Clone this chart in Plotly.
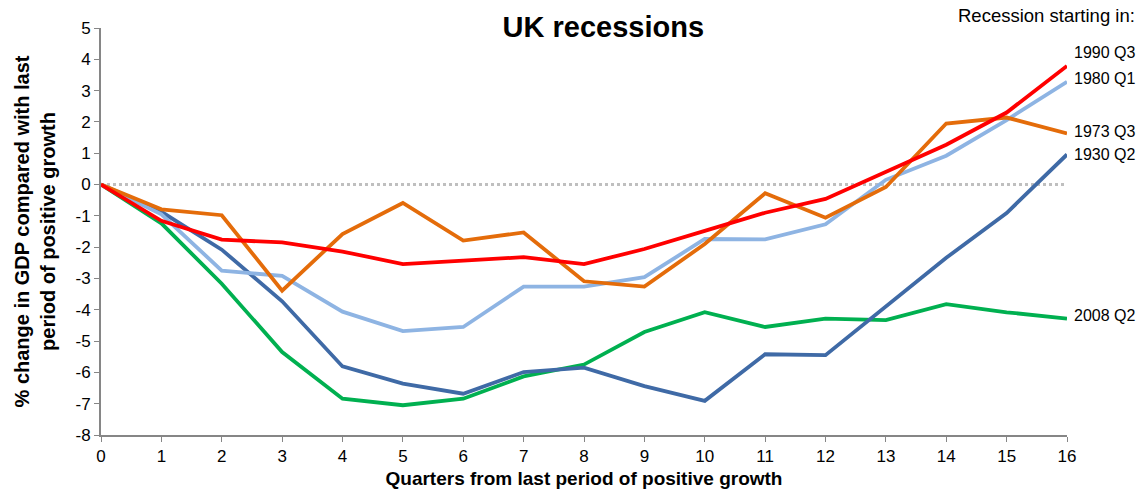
import plotly.graph_objects as go

quarters = list(range(17))
s1990 = [0, -1.16, -1.76, -1.85, -2.14, -2.54, -2.43, -2.32, -2.54, -2.06, -1.48, -0.90, -0.46, 0.39, 1.27, 2.30, 3.79]
s1980 = [0, -0.95, -2.75, -2.92, -4.06, -4.68, -4.55, -3.26, -3.26, -2.96, -1.74, -1.75, -1.27, 0.15, 0.92, 2.06, 3.28]
s1973 = [0, -0.79, -0.98, -3.39, -1.58, -0.59, -1.79, -1.53, -3.09, -3.26, -1.90, -0.28, -1.06, -0.08, 1.95, 2.14, 1.63]
s1930 = [0, -0.87, -2.08, -3.73, -5.81, -6.36, -6.68, -5.99, -5.85, -6.44, -6.91, -5.42, -5.45, -3.91, -2.34, -0.91, 0.96]
s2008 = [0, -1.24, -3.17, -5.35, -6.84, -7.05, -6.84, -6.13, -5.75, -4.71, -4.08, -4.55, -4.28, -4.33, -3.82, -4.08, -4.28]

names = ["1990 Q3", "1980 Q1", "1973 Q3", "1930 Q2", "2008 Q2"]
colors = ["#FF0000", "#8EB4E3", "#E46C0A", "#3F6AA6", "#00B050"]
series = [s1990, s1980, s1973, s1930, s2008]
label_offsets = [0.42, 0.10, 0.08, 0.0, 0.11]
y_ticks = list(range(-8, 6))

FONT = "Liberation Sans, Arial, sans-serif"

fig = go.Figure()
# zero reference line
fig.add_trace(go.Scatter(x=[quarters[0], quarters[-1]], y=[0, 0], mode="lines",
                         line=dict(color="#BFBFBF", width=3, dash="dot"),
                         hoverinfo="skip", showlegend=False))
order = [4, 3, 1, 2, 0]
for i in order:
    fig.add_trace(go.Scatter(x=quarters, y=series[i], mode="lines", name=names[i],
                             line=dict(color=colors[i], width=3.8), showlegend=False))

for i in range(len(names)):
    fig.add_annotation(x=quarters[-1], y=series[i][-1] + label_offsets[i], xref="x", yref="y",
                       text=names[i], showarrow=False, xanchor="left", xshift=5,
                       font=dict(family=FONT, size=16, color="#000000"))

fig.add_annotation(x=1, y=1, xref="paper", yref="paper", xanchor="right", yanchor="bottom",
                   xshift=70, yshift=0, text="Recession starting in:", showarrow=False,
                   font=dict(family=FONT, size=18.5, color="#000000"))

fig.update_layout(
    width=1141, height=491,
    margin=dict(l=101, r=74, t=28, b=56),
    paper_bgcolor="white", plot_bgcolor="white",
    font=dict(family=FONT, color="#000000"),
    title=dict(text="<b>UK recessions</b>", x=0.52, xanchor="center", xref="paper",
               y=0.945, yanchor="middle", font=dict(family=FONT, size=29, color="#000000")),
    xaxis=dict(range=[0, 16], tickvals=quarters, ticktext=[str(q) for q in quarters],
               automargin=False,
               showgrid=False, zeroline=False, showline=True, linecolor="#868686", linewidth=2,
               ticks="outside", ticklen=5, tickcolor="#868686", tickwidth=1,
               tickfont=dict(family=FONT, size=17, color="#000000"),
               title=dict(text="<b>Quarters from last period of positive growth</b>",
                          font=dict(family=FONT, size=19, color="#000000"), standoff=6)),
    yaxis=dict(range=[-8, 5], tickvals=y_ticks, ticktext=[str(v) for v in y_ticks],
               automargin=False,
               showgrid=False, zeroline=False, showline=True, linecolor="#868686", linewidth=2,
               ticks="outside", ticklen=5, tickcolor="#868686", tickwidth=1,
               tickfont=dict(family=FONT, size=17, color="#000000"),
               title=dict(text="<b>% change in GDP compared with last<br>period of positive growth</b>",
                          font=dict(family=FONT, size=20, color="#000000"), standoff=14)),
)

fig.write_html("out.html")
